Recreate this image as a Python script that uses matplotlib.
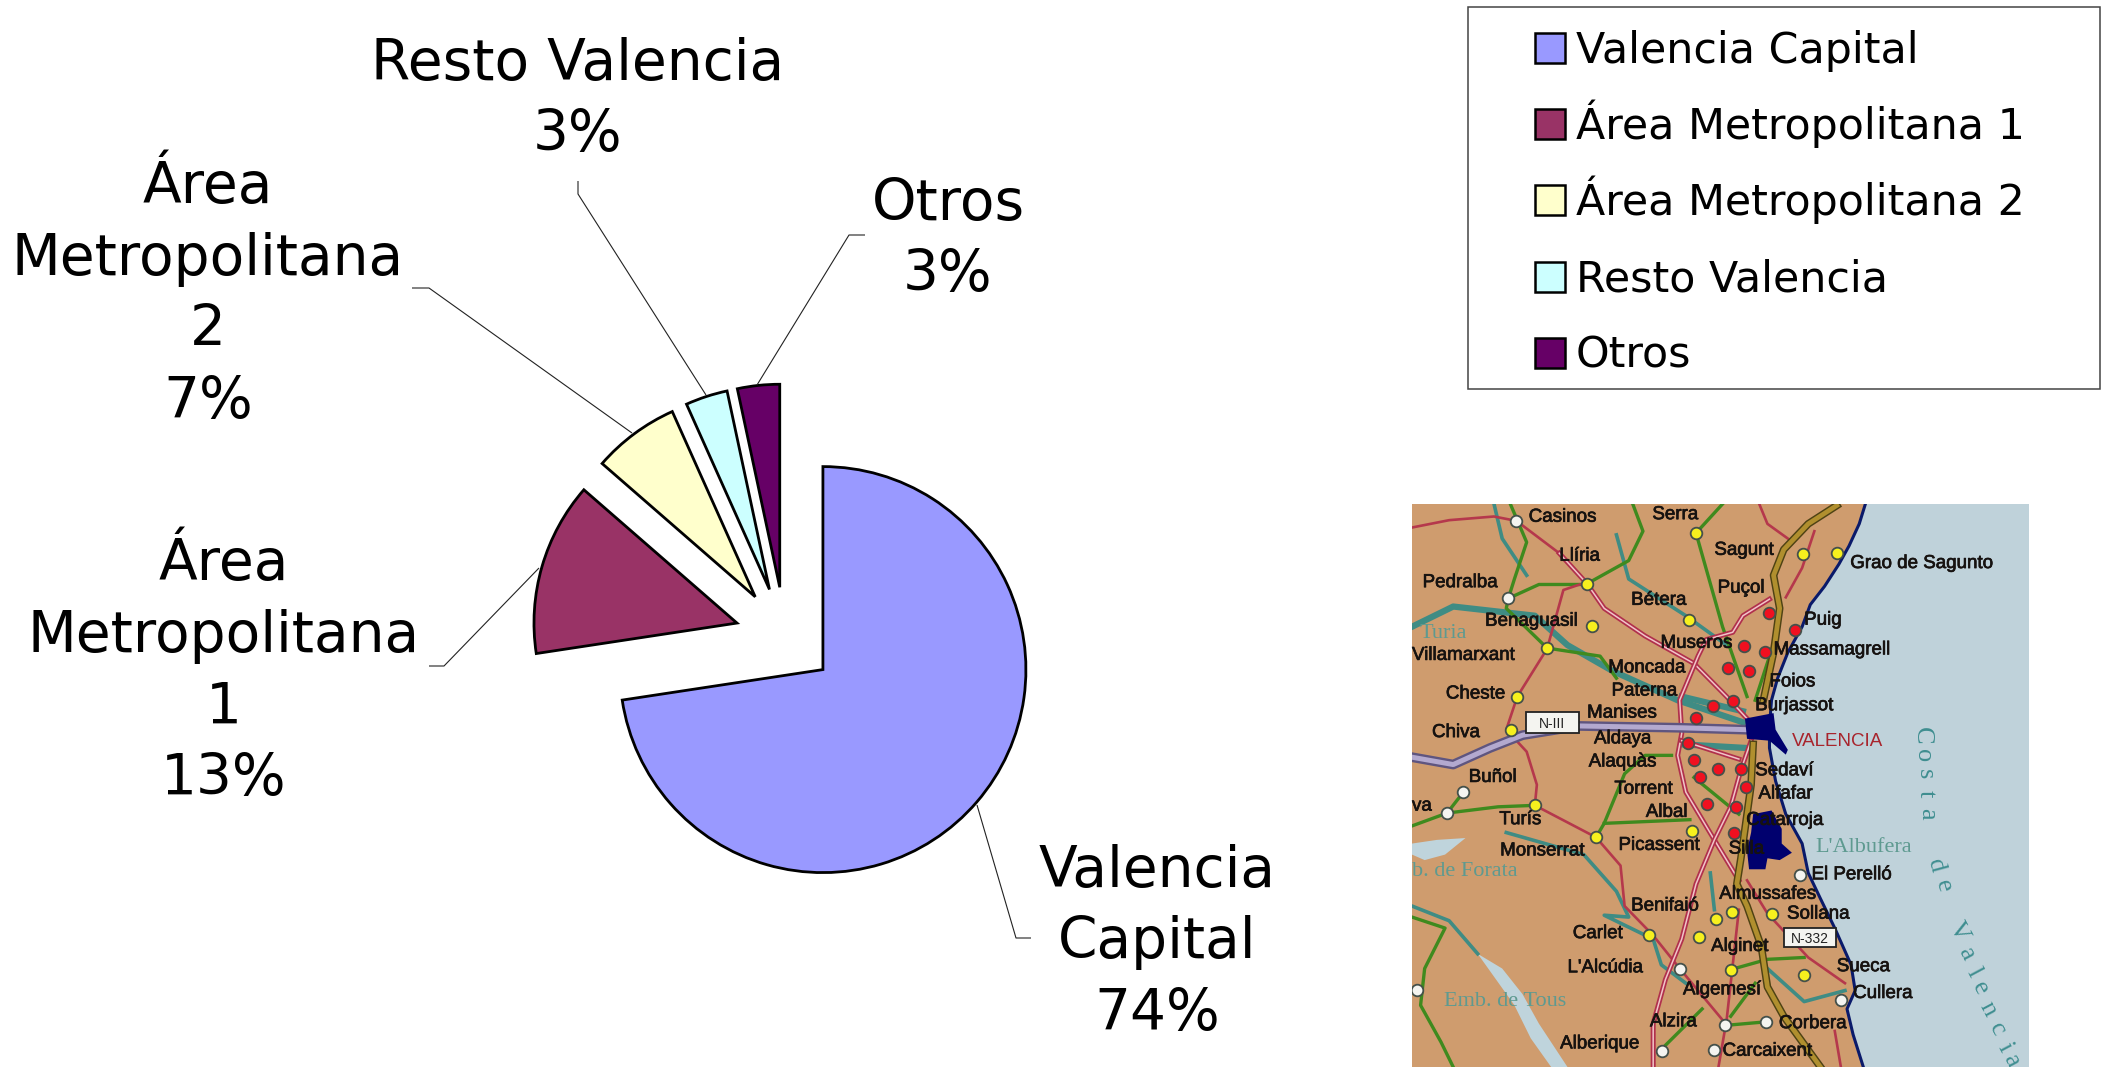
import matplotlib
matplotlib.use("Agg")
import matplotlib.pyplot as plt
import matplotlib.patheffects as pe
from matplotlib.patches import Rectangle, Polygon

W, H = 2102, 1067

# ---- pie data ----
categories = ["Valencia Capital", "Área Metropolitana 1", "Área Metropolitana 2", "Resto Valencia", "Otros"]
shares = [72.6, 13.8, 6.9, 3.35, 3.35]
printed_pct = ["74%", "13%", "7%", "3%", "3%"]
colors = ["#9999FF", "#993366", "#FFFFCC", "#CCFFFF", "#660066"]
label_lines = ["Valencia\nCapital", "Área\nMetropolitana\n1", "Área\nMetropolitana\n2", "Resto Valencia", "Otros"]
label_xy = [(1157, 943), (224, 672), (208, 295), (578, 100), (948, 240)]
legend_rows = [48, 124, 200, 277, 353]
leaders = [
    [(977, 805), (1016, 938), (1031, 938)],
    [(539, 568), (444, 666), (429, 666)],
    [(632, 433), (429, 288), (412, 288)],
    [(706, 395), (578, 194), (578, 181)],
    [(757, 385), (849, 235), (865, 235)],
]

# ---- map data (picture coordinates of the inset) ----
coast = [(1140,36),(1125,90),(1100,150),(1075,200),(1040,260),(1005,310),(985,370),(950,440),(925,510),(910,570),
         (905,640),(905,700),(920,790),(945,880),(985,960),(1000,1040),(1030,1110),(1065,1190),(1105,1290),
         (1115,1360),(1095,1410),(1110,1480),(1135,1568)]
forata = [(29,960),(90,950),(160,945),(110,990),(60,1005),(29,990)]
tous = [(190,1260),(250,1300),(300,1370),(340,1450),(410,1568),(370,1568),(320,1490),(280,1400),(235,1330)]
albufera = [(865,880),(910,870),(935,920),(935,960),(960,985),(930,1005),(900,1000),(895,1030),(855,1030),(850,980),(860,930)]
city = [(845,620),(915,605),(920,650),(950,705),(945,718),(905,680),(850,675)]

rivers = [
    [(29,370),(130,315),(330,340),(410,420),(520,490),(680,570),(840,630)],
    [(230,36),(250,130),(310,230)],
    [(530,120),(560,240),(700,340),(800,420)],
    [(260,930),(450,990),(530,1090),(560,1160),(500,1155),(620,1220),(640,1290),(700,1340)],
    [(29,1130),(120,1170),(190,1260)],
    [(760,1040),(770,1140)],
    [(900,1300),(990,1390),(1090,1360)],
    [(690,560),(840,600)],
    [(690,690),(850,700)],
]
greens = [
    [(570,36),(595,110),(560,190),(458,253)],
    [(270,36),(310,140),(280,240),(265,293),(260,320),(360,428),(490,450),(530,510)],
    [(265,293),(340,255),(440,255)],
    [(790,36),(725,115),(790,370),(850,560)],
    [(29,912),(115,877),(240,860),(330,856)],
    [(115,877),(155,820)],
    [(480,943),(500,905),(550,770),(600,720),(665,720)],
    [(500,905),(710,895)],
    [(29,1160),(110,1190),(60,1300),(50,1400),(100,1500),(130,1568)],
    [(795,1455),(897,1445)],
    [(810,1303),(900,1275),(990,1270)],
    [(810,1430),(870,1340)],
    [(640,1520),(740,1410)],
    [(870,570),(920,400)],
    [(720,780),(830,880)],
]
double_roads = [
    [(390,170),(458,253),(500,320),(600,395),(720,470),(800,560),(850,620)],
    [(905,295),(840,340),(815,385),(750,405),(730,450),(700,530),(685,570),(690,660),(680,720),(700,820),(770,950),(830,1060)],
    [(860,680),(835,760),(810,860),(770,950),(725,1070),(690,1220),(650,1330),(620,1450),(620,1568)],
    [(690,680),(830,730)],
]
thin_reds = [
    [(29,100),(120,80),(230,70),(285,82),(390,170)],
    [(440,255),(400,270),(360,430),(287,560),(260,650),(310,710),(335,800),(330,856),(480,943),(540,1020),(550,1130),(620,1210),(685,1300),(790,1440)],
    [(880,36),(900,90),(950,130)],
    [(1015,110),(985,210),(945,290)],
    [(850,1060),(900,1150),(1000,1270),(1090,1340)],
    [(830,1140),(800,1440),(780,1568)],
    [(1065,1470),(1080,1568)],
]
n3_road = [(29,725),(130,745),(220,700),(300,665),(440,640),(690,645),(845,650)]
motorway = [
    [(1070,40),(1000,90),(940,160),(915,230),(930,320),(915,440),(890,570)],
    [(865,690),(860,800),(835,1000),(825,1070),(850,1130),(885,1240),(900,1350),(940,1430),(1030,1568)],
]
white_towns = [(285,82),(265,293),(155,820),(115,877),(42,1358),(685,1300),(795,1455),(897,1445),(768,1522),(642,1525),(1080,1385),(980,1045)]
yellow_towns = [(725,115),(987,172),(1070,170),(458,253),(470,367),(708,352),(360,428),(287,562),(272,652),(330,856),(480,943),
                (715,925),(813,1145),(775,1166),(910,1153),(610,1208),(732,1214),(810,1303),(990,1318)]
red_towns = [(905,332),(968,380),(843,422),(895,440),(803,482),(855,490),(815,572),(766,585),(724,617),(706,687),(720,733),
             (778,757),(835,757),(735,778),(848,805),(752,852),(823,860),(817,932)]
place_names = [("Casinos",315,72),("Serra",618,65),("Sagunt",770,162),("Grao de Sagunto",1103,198),("Llíria",390,178),
               ("Pedralba",55,250),("Puçol",778,265),("Bétera",566,298),("Benaguasil",208,355),("Puig",990,352),
               ("Villamarxant",29,448),("Museros",638,415),("Massamagrell",915,433),("Moncada",510,482),("Foios",905,520),
               ("Paterna",518,545),("Cheste",112,553),("Burjassot",870,585),("Manises",458,605),("Chiva",78,658),
               ("Aldaya",475,675),("Alaquàs",462,738),("Sedaví",870,762),("Buñol",168,780),("Alfafar",878,825),
               ("Torrent",525,812),("Albal",602,875),("Catarroja",848,897),("Turís",243,895),("va",29,858),
               ("Picassent",535,965),("Silla",805,975),("Monserrat",245,980),("El Perelló",1008,1045),
               ("Almussafes",782,1098),("Benifaió",566,1130),("Sollana",948,1152),("Carlet",423,1205),("Alginet",762,1240),
               ("L'Alcúdia",410,1298),("Sueca",1070,1295),("Algemesí",693,1358),("Cullera",1110,1368),("Alzira",612,1445),
               ("Corbera",928,1450),("Alberique",392,1505),("Carcaixent",790,1525)]
water_names = [("Turia",48,388),("L'Albufera",1018,970),("b. de Forata",29,1035),("Emb. de Tous",108,1390)]
coast_letters = [("C",1278,668,-90),("o",1282,720,-90),("s",1285,770,-90),("t",1287,825,-90),("a",1292,880,-90),
                 ("d",1312,1020,-75),("e",1330,1075,-75),
                 ("V",1368,1200,-62),("a",1388,1260,-62),("l",1405,1310,-62),("e",1420,1355,-62),("n",1440,1410,-62),
                 ("c",1462,1465,-62),("i",1480,1515,-62),("a",1498,1550,-62)]
road_signs = [("N-III",308,603,130,55),("N-332",940,1190,128,52)]

fig = plt.figure(figsize=(W / 100, H / 100), dpi=100, facecolor="white")
plt.rcParams["font.family"] = "DejaVu Sans"

ax = fig.add_axes([0, 0, 1, 1])
wedges, _ = ax.pie(shares, colors=colors, startangle=90, counterclock=False, center=(785, H - 637), radius=203,
                   explode=[50] * len(shares), wedgeprops=dict(edgecolor="black", linewidth=2.0), frame=True)
ax.set_xlim(0, W)
ax.set_ylim(0, H)
ax.set_aspect("auto")
ax.axis("off")

for pts in leaders:
    ax.plot([p[0] for p in pts], [H - p[1] for p in pts], color="#222222", lw=0.8, solid_capstyle="butt", zorder=1)

for name, pct, (x, y) in zip(label_lines, printed_pct, label_xy):
    ax.text(x, H - y, f"{name}\n{pct}", ha="center", va="center", fontsize=40.8, linespacing=1.39, color="black")

# legend box with evenly spaced rows
ax.add_patch(Rectangle((1468, H - 389), 632, 382, fill=False, edgecolor="#444444", lw=1.1))
for name, col, row in zip(categories, colors, legend_rows):
    ax.add_patch(Rectangle((1535, H - row - 15), 30, 30, facecolor=col, edgecolor="black", lw=1.8))
    ax.text(1576, H - row - 15, name, ha="left", va="baseline", fontsize=30.8, color="black")

# ---- inset map ----
mx = fig.add_axes([1412 / W, 0, (2029 - 1412) / W, (1067 - 504) / H])
mx.set_xlim(29, 1541)
mx.set_ylim(1568, 36)
mx.axis("off")
mx.add_patch(Rectangle((29, 36), 1512, 1532, facecolor="#BFD2DA", edgecolor="none"))
mx.add_patch(Polygon([(29, 36)] + coast + [(29, 1568)], facecolor="#CF9C6E", edgecolor="none"))
for poly in (forata, tous):
    mx.add_patch(Polygon(poly, facecolor="#BFD4DC", edgecolor="none"))


def draw(path, **kw):
    mx.plot([p[0] for p in path], [p[1] for p in path], solid_joinstyle="round", **kw)


for i, path in enumerate(rivers):
    draw(path, color="#3F8C84", lw=4.5 if i in (0, 7, 8) else 2.6)
for path in greens:
    draw(path, color="#3F8A1E", lw=2.4)
for path in thin_reds:
    draw(path, color="#B5384C", lw=1.9)
for path in double_roads:
    draw(path, color="#B0304C", lw=3.6)
    draw(path, color="#F2C4C8", lw=1.1)
draw(coast, color="#0A1A6A", lw=2.2)
draw(n3_road, color="#5F557F", lw=7.0)
draw(n3_road, color="#B3A9CF", lw=3.6)
for path in motorway:
    draw(path, color="#4E4214", lw=5.5)
    draw(path, color="#B08F2E", lw=3.4)
for poly in (albufera, city):
    mx.add_patch(Polygon(poly, facecolor="#00006E", edgecolor="none", zorder=3))

for pts, col in ((white_towns, "#F4F4F0"), (yellow_towns, "#F6F01E"), (red_towns, "#F01020")):
    mx.scatter([p[0] for p in pts], [p[1] for p in pts], s=70, color=col, edgecolor="#44504A", linewidth=1.3, zorder=4)

bold = [pe.withStroke(linewidth=0.5, foreground="#161210")]
for name, x, y in place_names:
    mx.text(x, y, name, ha="left", va="center", fontsize=13.5, family="Liberation Sans", color="#161210",
            zorder=5, path_effects=bold)
mx.text(960, 682, "VALENCIA", ha="left", va="center", fontsize=13.5, family="Liberation Sans", color="#A8242C", zorder=5)
for name, x, y in water_names:
    mx.text(x, y, name, ha="left", va="center", fontsize=16, family="Liberation Serif", color="#5E9A90", zorder=5)
for ch, x, y, rot in coast_letters:
    mx.text(x, y, ch, ha="center", va="center", fontsize=19, family="Liberation Serif", rotation=rot, color="#3F8E90", zorder=5)
for name, x, y, w, h in road_signs:
    mx.add_patch(Rectangle((x, y), w, h, facecolor="#F4F4F0", edgecolor="#222222", lw=1.3, zorder=5))
    mx.text(x + w / 2, y + h / 2 + 3, name, ha="center", va="center", fontsize=10, family="Liberation Sans", color="#222222", zorder=6)

fig.savefig("out.png", dpi=100, facecolor="white")
